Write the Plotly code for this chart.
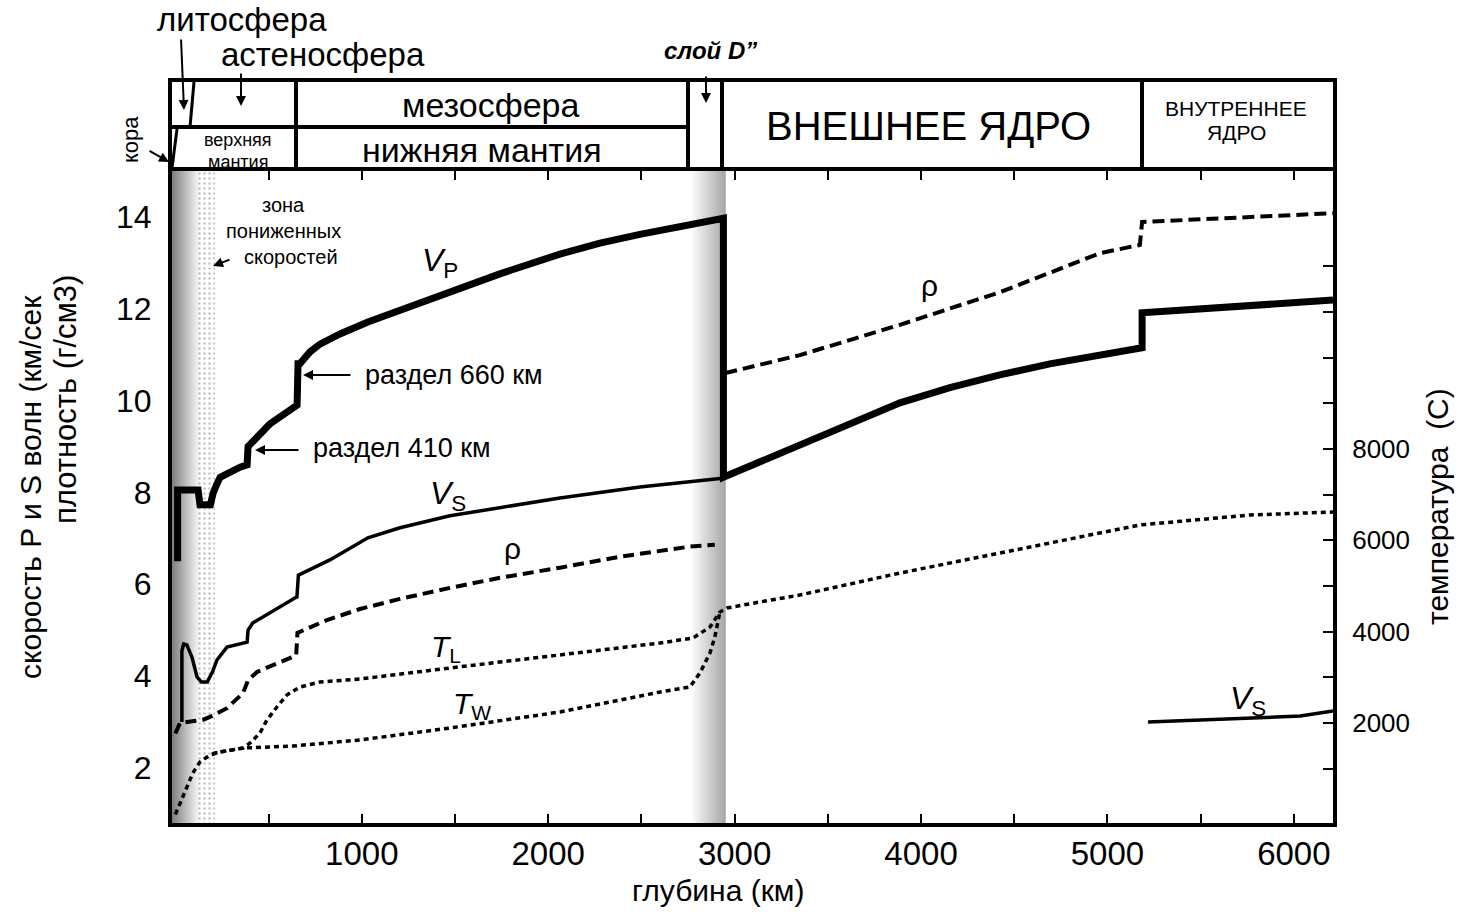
import plotly.graph_objects as go

# ---------------- data ----------------
# depth in km, velocities km/s, density g/cm3, temperature C
vp_depth = [12, 12, 122, 132, 188, 203, 225, 240, 347, 385, 390, 507, 653, 658, 668, 722, 776, 883, 1033,
            1205, 1473, 1741, 2063, 2278, 2492, 2760, 2940, 2940, 3136, 3350, 3619, 3887, 4155, 4423, 4691,
            4960, 5186, 5186, 6210]
vp_vals = [6.5, 8.05, 8.05, 7.73, 7.73, 7.99, 8.2, 8.33, 8.55, 8.6, 9.0, 9.49, 9.9, 10.8, 10.8, 11.06, 11.23,
           11.45, 11.71, 11.97, 12.39, 12.76, 13.19, 13.43, 13.62, 13.84, 13.97, 8.33, 8.66, 9.03, 9.49, 9.95,
           10.28, 10.56, 10.8, 11.01, 11.15, 11.91, 12.19]

vs_depth = [35, 35, 45, 62, 90, 116, 140, 171, 200, 223, 277, 385, 390, 416, 641, 652, 660, 829, 1033,
            1205, 1473, 1741, 2063, 2492, 2935]
vs_vals = [3.0, 4.55, 4.7, 4.68, 4.4, 3.98, 3.87, 3.87, 4.1, 4.35, 4.63, 4.74, 5.0, 5.16, 5.7, 5.72, 6.2,
           6.53, 7.01, 7.23, 7.49, 7.66, 7.88, 8.12, 8.31]

vs_ic_depth = [5218, 6034, 6210]
vs_ic_vals = [3.0, 3.13, 3.24]

rho_depth = [0, 25, 100, 150, 185, 277, 363, 390, 438, 631, 648, 655, 813, 990, 1205, 1473, 1741, 2063,
             2385, 2760, 2894]
rho_vals = [2.75, 2.98, 3.02, 3.05, 3.11, 3.3, 3.63, 3.91, 4.09, 4.42, 4.45, 4.94, 5.22, 5.46, 5.68, 5.92,
            6.14, 6.36, 6.6, 6.82, 6.86]

rho_core_depth = [2950, 3350, 3887, 4423, 4960, 5174, 5186, 6210]
rho_core_vals = [10.6, 10.99, 11.65, 12.36, 13.21, 13.39, 13.89, 14.08]

tl_depth = [200, 239, 364, 401, 454, 491, 545, 598, 668, 776, 920, 990, 1473, 2063, 2600, 2777, 2868, 2921,
            2959, 3136, 3350, 3887, 4423, 5174, 5764, 6210]
tl_vals = [1330, 1365, 1452, 1562, 1781, 2065, 2350, 2613, 2788, 2898, 2941, 2963, 3204, 3489, 3752, 3861,
           4102, 4430, 4518, 4650, 4803, 5284, 5722, 6336, 6555, 6620]

tw_depth = [0, 25, 62, 94, 132, 185, 239, 364, 631, 990, 1473, 2063, 2600, 2760, 2814, 2868, 2894, 2921]
tw_vals = [0, 248, 598, 905, 1146, 1299, 1365, 1452, 1496, 1628, 1890, 2241, 2679, 2788, 3095, 3533, 3883,
           4430]

x_tickvals = [500, 1000, 1500, 2000, 2500, 3000, 3500, 4000, 4500, 5000, 5500, 6000]
x_ticktext = ["", "1000", "", "2000", "", "3000", "", "4000", "", "5000", "", "6000"]
y_tickvals = [2, 4, 6, 8, 10, 12, 14]
t_tickvals = [1000, 2000, 3000, 4000, 5000, 6000, 7000, 8000, 9000, 10000, 11000, 12000]
t_ticktext = ["", "2000", "", "4000", "", "6000", "", "8000", "", "", "", ""]

# ---------------- layout geometry ----------------
W, H = 1457, 917
L, R, T, B = 172, 1333, 171, 823
PW, PH = R - L, B - T
FONT = "Liberation Sans, Arial, sans-serif"


def px(x):
    return (x - L) / PW


def py(y):
    return (B - y) / PH


fig = go.Figure()

# stippled low-velocity zone
fig.add_trace(go.Bar(x=[168], width=[90], y=[14.2], base=[0.8], yaxis="y",
                     marker=dict(color="rgba(0,0,0,0)", line=dict(width=0),
                                 pattern=dict(shape=".", fgcolor="#8a8a8a", size=5, solidity=0.2)),
                     hoverinfo="skip", showlegend=False))

fig.add_trace(go.Scatter(x=vp_depth, y=vp_vals, mode="lines", line=dict(color="black", width=7),
                         showlegend=False))
fig.add_trace(go.Scatter(x=vs_depth, y=vs_vals, mode="lines", line=dict(color="black", width=3.5),
                         showlegend=False))
fig.add_trace(go.Scatter(x=vs_ic_depth, y=vs_ic_vals, mode="lines", line=dict(color="black", width=3.5),
                         showlegend=False))
fig.add_trace(go.Scatter(x=rho_depth, y=rho_vals, mode="lines",
                         line=dict(color="black", width=4, dash="11px,6px"), showlegend=False))
fig.add_trace(go.Scatter(x=rho_core_depth, y=rho_core_vals, mode="lines",
                         line=dict(color="black", width=4, dash="12px,6px"), showlegend=False))
fig.add_trace(go.Scatter(x=tl_depth, y=tl_vals, mode="lines", yaxis="y2",
                         line=dict(color="black", width=3.5, dash="5px,4px"), showlegend=False))
fig.add_trace(go.Scatter(x=tw_depth, y=tw_vals, mode="lines", yaxis="y2",
                         line=dict(color="black", width=3.5, dash="5px,4px"), showlegend=False))

shapes = []


def grad(d0, d1, c0, c1, n=30):
    step = (d1 - d0) / n
    for i in range(n):
        a = d0 + step * i
        b = a + step * 1.8 if i < n - 1 else d1
        t = (i + 0.5) / n
        c = int(c0 + (c1 - c0) * t)
        shapes.append(dict(type="rect", xref="x", yref="paper", x0=a, x1=b, y0=0, y1=1,
                           fillcolor=f"rgb({c},{c},{c})", line=dict(width=0), layer="below"))


grad(-20, 135, 125, 255)
grad(2765, 2952, 255, 165)

HL = dict(color="black", width=4)


def hline(x0, y0, x1, y1, w=4):
    shapes.append(dict(type="line", xref="paper", yref="paper", x0=px(x0), y0=py(y0), x1=px(x1), y1=py(y1),
                       line=dict(color="black", width=w)))


# header boxes
shapes.append(dict(type="rect", xref="paper", yref="paper", x0=px(170), x1=px(1335), y0=py(169), y1=py(80),
                   line=HL, fillcolor="rgba(0,0,0,0)"))
hline(170, 127, 688, 127)
for xv in (296, 688, 722, 1142):
    hline(xv, 80, xv, 169)
hline(194, 82, 190, 127, 3)
hline(177, 129, 172, 168, 3)

ann = []


def text(t, x, y, size, angle=0, **kw):
    ann.append(dict(text=t, x=px(x), y=py(y), xref="paper", yref="paper", showarrow=False,
                    xanchor="center", yanchor="middle", textangle=angle,
                    font=dict(family=FONT, size=size, color="black"), **kw))


def arrow(hx, hy, tx, ty):
    ann.append(dict(text="", x=px(hx), y=py(hy), xref="paper", yref="paper", showarrow=True,
                    ax=tx - hx, ay=ty - hy, arrowhead=2, arrowsize=1, arrowwidth=2, arrowcolor="black"))


text("литосфера", 242, 20, 33)
text("астеносфера", 323, 55, 33)
text("<b><i>слой D”</i></b>", 710, 51, 24)
text("мезосфера", 490, 105, 34)
text("нижняя мантия", 482, 150, 34)
text("верхняя", 238, 140, 18)
text("мантия", 238, 162, 18)
text("ВНЕШНЕЕ ЯДРО", 928, 126, 40)
text("ВНУТРЕННЕЕ", 1236, 108, 21)
text("ЯДРО", 1236, 133, 21)
text("кора", 131, 140, 22, angle=-90)
text("зона", 283, 205, 20)
text("пониженных", 283, 231, 20)
text("скоростей", 291, 257, 20)
text("раздел 660 км", 454, 375, 27)
text("раздел 410 км", 402, 448, 27)
text("<i>V</i><sub>P</sub>", 440, 262, 32)
text("<i>V</i><sub>S</sub>", 448, 495, 32)
text("ρ", 512, 548, 30)
text("ρ", 930, 285, 30)
text("<i>T</i><sub>L</sub>", 446, 648, 30)
text("<i>T</i><sub>W</sub>", 472, 705, 30)
text("<i>V</i><sub>S</sub>", 1248, 700, 32)
text("глубина (км)", 718, 890, 30)
text("скорость P и S волн (км/сек", 30, 487, 30, angle=-90)
text("плотность (г/см3)", 65, 400, 31, angle=-90)
text("температура  (C)", 1437, 507, 30, angle=-90)

arrow(303, 375, 352, 375)
arrow(255, 450, 300, 450)
arrow(184, 110, 181, 38)
arrow(241, 106, 241, 72)
arrow(706, 103, 706, 75)
arrow(213, 266, 231, 259)
arrow(169, 162, 148, 150)

fig.update_layout(
    width=W, height=H,
    margin=dict(l=L, r=W - R, t=T, b=H - B, pad=0),
    paper_bgcolor="white", plot_bgcolor="white",
    showlegend=False, bargap=0,
    shapes=shapes, annotations=ann,
    xaxis=dict(range=[-18, 6210], tickvals=x_tickvals, ticktext=x_ticktext, ticks="inside", ticklen=9,
               tickwidth=2, tickcolor="black", showline=True, linewidth=4, linecolor="black", mirror="ticks",
               showgrid=False, zeroline=False, tickfont=dict(family=FONT, size=33, color="black"),
               ticklabelstandoff=-2),
    yaxis=dict(range=[0.8, 15.0], tickvals=y_tickvals, ticks="", showline=True, linewidth=4,
               linecolor="black", showgrid=False, zeroline=False,
               tickfont=dict(family=FONT, size=32, color="black"), ticklabelstandoff=10),
    yaxis2=dict(range=[-190, 14088], overlaying="y", side="right", tickvals=t_tickvals, ticktext=t_ticktext,
                ticks="inside", ticklen=10, tickwidth=2, tickcolor="black", showline=True, linewidth=4,
                linecolor="black", showgrid=False, zeroline=False,
                tickfont=dict(family=FONT, size=26, color="black"), ticklabelstandoff=10),
)

fig.write_html("out.html")
